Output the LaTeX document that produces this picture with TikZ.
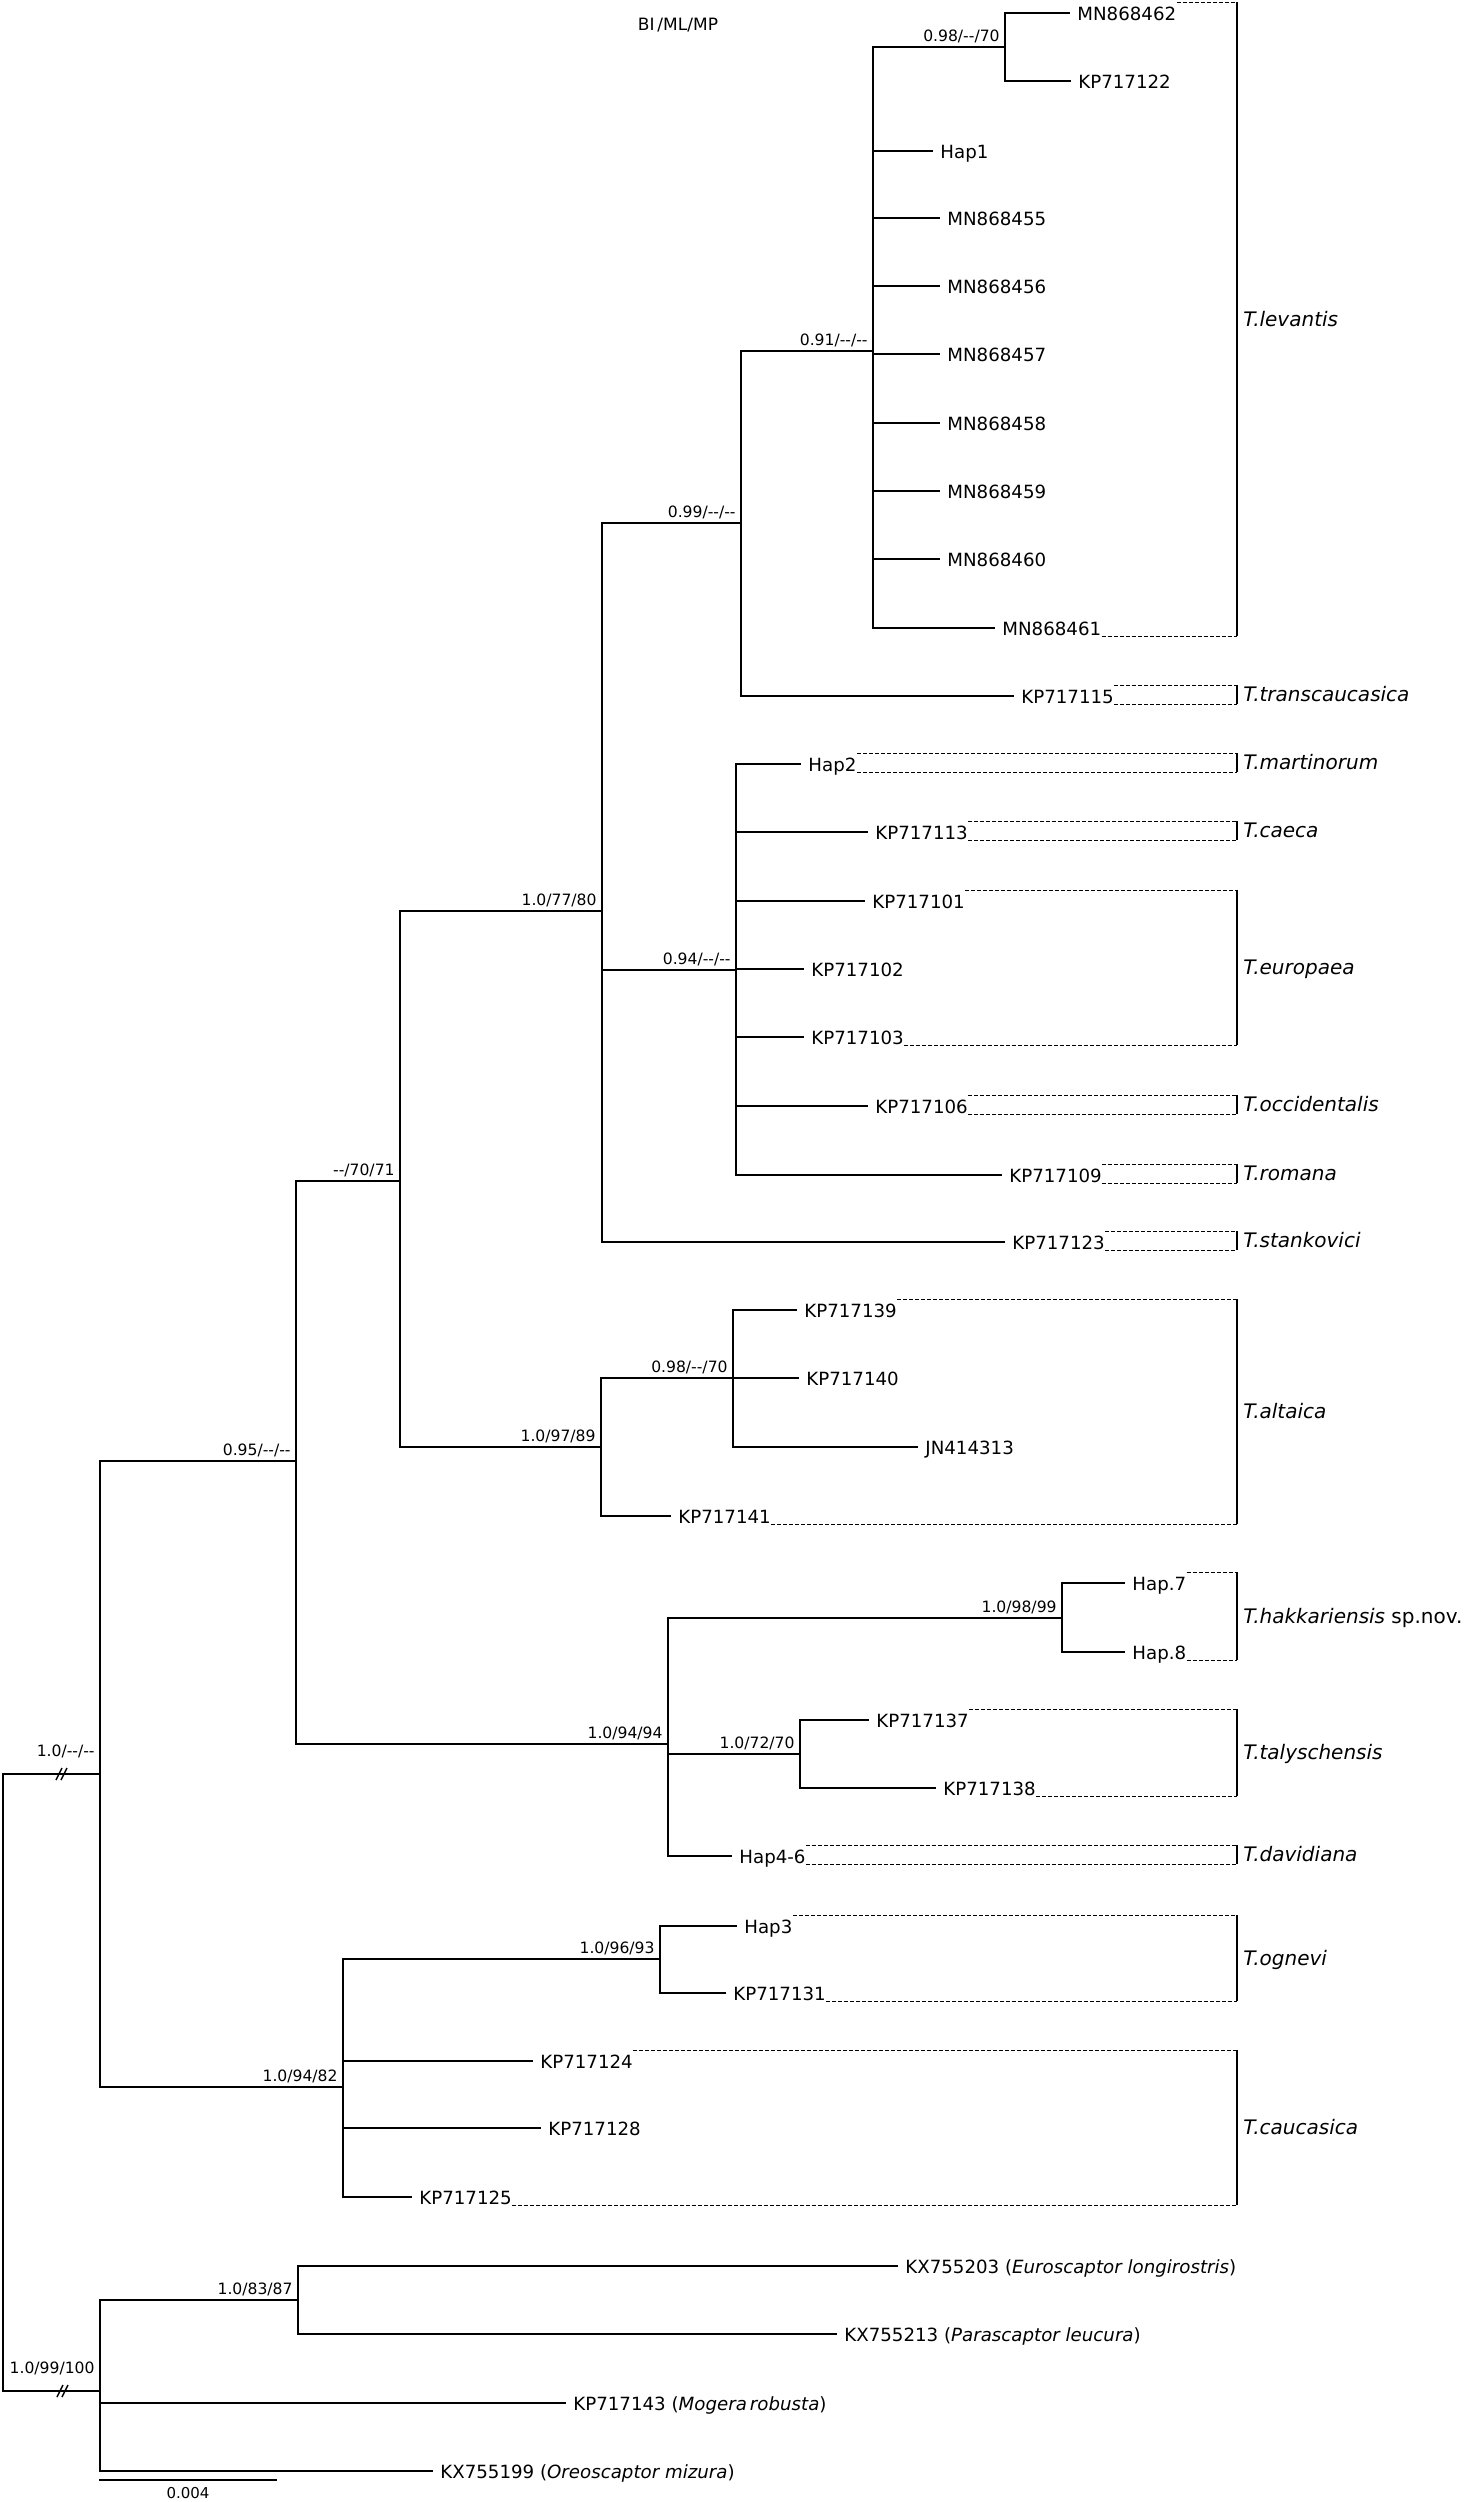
\documentclass[tikz,border=0pt]{standalone}
\usepackage{fontspec}
\setmainfont{DejaVu Sans}
\usetikzlibrary{calc}
\newcommand{\nosup}{-{}-}
\tikzset{
  branch/.style={line width=0.85pt, line cap=rect},
  twig/.style={branch, shorten >=4pt},
  rootline/.style={line width=1.4pt, line cap=rect},
  leaf/.style={anchor=west, inner sep=0pt, text height=0.73em, text depth=0pt, font=\fontsize{9.1}{11}\selectfont},
  supp/.style={anchor=base east, inner sep=0pt, xshift=-2.5pt, yshift=3pt, font=\fontsize{7.8}{9}\selectfont},
  spec/.style={anchor=west, inner sep=0pt, text height=0.73em, text depth=0pt, font=\fontsize{10}{12}\selectfont\itshape},
  guide/.style={line width=0.5pt, dash pattern=on 2pt off 1pt},
  bar/.style={line width=0.9pt},
}
% dashed guides from the first and last leaf of a species to its bar
\newcommand{\clade}[4]{%
  \path ([yshift=5.5pt]#1.east) coordinate (#3a) ([yshift=-4pt]#2.east) coordinate (#3b);
  \draw[guide] (#3a) -- (#3a -| barx);
  \draw[guide] (#3b) -- (#3b -| barx);
  \draw[bar] (#3a -| barx) -- (#3b -| barx);
  \node[spec] (#3) at ($(#3a -| barx)!0.5!(#3b -| barx) + (6,0)$) {#4};
}
\begin{document}
\begin{tikzpicture}[x=0.5pt, y=-0.5pt]
\useasboundingbox (0,0) rectangle (1471,2502);
\coordinate (barx) at (1237,0);
\node[font=\fontsize{8.5}{10}\selectfont] (title) at (678,25) {BI\,/ML/MP};

% internal nodes: x of the vertical line, y of the branch from the parent
\coordinate (R)  at (3,2080);
\coordinate (N0) at (100,1774);
\coordinate (J)  at (296,1461);
\coordinate (G)  at (400,1181);
\coordinate (E)  at (602,911);
\coordinate (D)  at (741,523);
\coordinate (C)  at (873,351);
\coordinate (A)  at (1005,47);
\coordinate (F)  at (736,970);
\coordinate (H)  at (601,1447);
\coordinate (I)  at (733,1378);
\coordinate (K)  at (668,1744);
\coordinate (L)  at (1062,1618);
\coordinate (M)  at (800,1754);
\coordinate (N1) at (343,2087);
\coordinate (O)  at (660,1959);
\coordinate (P)  at (100,2391);
\coordinate (Q)  at (298,2300);

% leaves
\node[leaf] (mn462) at (1077,13) {MN868462};
\node[leaf] (kp122) at (1078,81) {KP717122};
\node[leaf] (hap1)  at (940,151) {Hap1};
\foreach \id/\y in {455/218, 456/286, 457/354, 458/423, 459/491, 460/559}
  \node[leaf] (mn\id) at (947,\y) {MN868\id};
\node[leaf] (mn461) at (1002,628) {MN868461};
\node[leaf] (kp115) at (1021,696) {KP717115};
\node[leaf] (hap2)  at (808,764) {Hap2};
\node[leaf] (kp113) at (875,832) {KP717113};
\node[leaf] (kp101) at (872,901) {KP717101};
\node[leaf] (kp102) at (811,969) {KP717102};
\node[leaf] (kp103) at (811,1037) {KP717103};
\node[leaf] (kp106) at (875,1106) {KP717106};
\node[leaf] (kp109) at (1009,1175) {KP717109};
\node[leaf] (kp123) at (1012,1242) {KP717123};
\node[leaf] (kp139) at (804,1310) {KP717139};
\node[leaf] (kp140) at (806,1378) {KP717140};
\node[leaf] (jn313) at (925,1447) {JN414313};
\node[leaf] (kp141) at (678,1516) {KP717141};
\node[leaf] (hap7)  at (1132,1583) {Hap.7};
\node[leaf] (hap8)  at (1132,1652) {Hap.8};
\node[leaf] (kp137) at (876,1720) {KP717137};
\node[leaf] (kp138) at (943,1788) {KP717138};
\node[leaf] (hap46) at (739,1856) {Hap4-6};
\node[leaf] (hap3)  at (744,1926) {Hap3};
\node[leaf] (kp131) at (733,1993) {KP717131};
\node[leaf] (kp124) at (540,2061) {KP717124};
\node[leaf] (kp128) at (548,2128) {KP717128};
\node[leaf] (kp125) at (419,2197) {KP717125};
\node[leaf] (kx203) at (905,2266) {KX755203 (\textit{Euroscaptor longirostris})};
\node[leaf] (kx213) at (844,2334) {KX755213 (\textit{Parascaptor leucura})};
\node[leaf] (kp143) at (573,2403) {KP717143 (\textit{Mogera\,robusta})};
\node[leaf] (kx199) at (440,2471) {KX755199 (\textit{Oreoscaptor mizura})};

% branches
\draw[rootline] (N0) -| (R) |- (P);
\draw[branch] (N0) |- (J) (N0) |- (N1);
\draw[branch] (J) |- (G) (J) |- (K);
\draw[branch] (G) |- (E) (G) |- (H);
\draw[branch] (E) |- (D) (E) |- (F);
\draw[twig] (E) |- (kp123.west);
\draw[branch] (D) |- (C);
\draw[twig] (D) |- (kp115.west);
\draw[branch] (C) |- (A);
\foreach \t in {hap1, mn455, mn456, mn457, mn458, mn459, mn460, mn461}
  \draw[twig] (C) |- (\t.west);
\foreach \t in {mn462, kp122}
  \draw[twig] (A) |- (\t.west);
\foreach \t in {hap2, kp113, kp101, kp102, kp103, kp106, kp109}
  \draw[twig] (F) |- (\t.west);
\draw[branch] (H) |- (I);
\draw[twig] (H) |- (kp141.west);
\foreach \t in {kp139, kp140, jn313}
  \draw[twig] (I) |- (\t.west);
\draw[branch] (K) |- (L) (K) |- (M);
\draw[twig] (K) |- (hap46.west);
\foreach \t in {hap7, hap8}
  \draw[twig] (L) |- (\t.west);
\foreach \t in {kp137, kp138}
  \draw[twig] (M) |- (\t.west);
\draw[branch] (N1) |- (O);
\foreach \t in {kp124, kp128, kp125}
  \draw[twig] (N1) |- (\t.west);
\foreach \t in {hap3, kp131}
  \draw[twig] (O) |- (\t.west);
\draw[branch] (P) |- (Q);
\foreach \t in {kp143, kx199}
  \draw[twig] (P) |- (\t.west);
\foreach \t in {kx203, kx213}
  \draw[twig] (Q) |- (\t.west);

% broken root branches
\coordinate (brk1) at (62,1774);
\coordinate (brk2) at (63,2391);
\foreach \b in {brk1, brk2}
  \draw[line width=0.7pt] ([shift={(-6,6)}]\b) -- ++(6,-12) ([shift={(-1,6)}]\b) -- ++(6,-12);

% support values BI/ML/MP
\node[supp] at (A)  {0.98/\nosup/70};
\node[supp] at (C)  {0.91/\nosup/\nosup};
\node[supp] at (D)  {0.99/\nosup/\nosup};
\node[supp] at (E)  {1.0/77/80};
\node[supp] at (F)  {0.94/\nosup/\nosup};
\node[supp] at (G)  {\nosup/70/71};
\node[supp] at (H)  {1.0/97/89};
\node[supp] at (I)  {0.98/\nosup/70};
\node[supp] at (J)  {0.95/\nosup/\nosup};
\node[supp] at (K)  {1.0/94/94};
\node[supp] at (L)  {1.0/98/99};
\node[supp] at (M)  {1.0/72/70};
\node[supp] at (N1) {1.0/94/82};
\node[supp] at (O)  {1.0/96/93};
\node[supp] at (Q)  {1.0/83/87};
\node[supp, yshift=6pt] at (N0) {1.0/\nosup/\nosup};
\node[supp, yshift=6pt] at (P)  {1.0/99/100};

% species
\clade{mn462}{mn461}{lev}{T.levantis}
\clade{kp115}{kp115}{tra}{T.transcaucasica}
\clade{hap2}{hap2}{mar}{T.martinorum}
\clade{kp113}{kp113}{cae}{T.caeca}
\clade{kp101}{kp103}{eur}{T.europaea}
\clade{kp106}{kp106}{occ}{T.occidentalis}
\clade{kp109}{kp109}{rom}{T.romana}
\clade{kp123}{kp123}{sta}{T.stankovici}
\clade{kp139}{kp141}{alt}{T.altaica}
\clade{hap7}{hap8}{hak}{T.hakkariensis \textup{sp.nov.}}
\clade{kp137}{kp138}{tal}{T.talyschensis}
\clade{hap46}{hap46}{dav}{T.davidiana}
\clade{hap3}{kp131}{ogn}{T.ognevi}
\clade{kp124}{kp125}{cau}{T.caucasica}

% scale bar
\coordinate (sb1) at (100,2480);
\coordinate (sb2) at (276,2480);
\draw[branch] (sb1) -- (sb2) node[midway, anchor=north, inner sep=0pt, yshift=-3pt, font=\fontsize{7.5}{9}\selectfont] (sblab) {0.004};
\end{tikzpicture}
\end{document}
